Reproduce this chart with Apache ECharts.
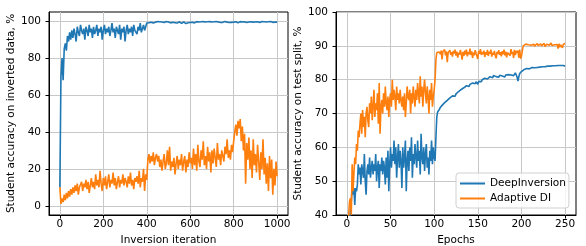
<!DOCTYPE html>
<html><head><meta charset="utf-8">
<script src="https://cdn.jsdelivr.net/npm/echarts@6/dist/echarts.min.js"></script>
<style>html,body{margin:0;padding:0;background:#fff}#c{width:586px;height:246px}</style>
</head><body><div id="c"></div>
<script>
// ---------- data ----------
const leftStep = 5; // inversion iterations between samples
const leftXTicks = [0, 200, 400, 600, 800, 1000];
const leftYTicks = [0, 20, 40, 60, 80, 100];
const rightXTicks = [0, 50, 100, 150, 200, 250];
const seriesNames = ['DeepInversion', 'Adaptive DI'];

const leftBlue = [10,70,80,68,85,88,84,92,89,94,90,
95,91,96,93,89,97,94,92,98,95,
93,96,90,97,95,92,98,94,96,91,
97,93,95,98,92,96,94,97,90,95,
98,93,96,94,97,92,95,99,94,96,
91,97,95,93,98,90,96,94,97,89,
95,98,93,96,94,97,92,98,95,96,
93,97,95,99,94,96,98,95,97,99,
99.6,99.2,99.8,99.4,99.7,99.1,99.9,99.5,99.3,99.8,
99.4,99.7,99.0,99.6,99.9,99.3,99.5,99.8,99.2,99.6,
99.5,99.1,99.7,99.4,99.8,99.2,99.6,99.0,99.5,99.7,
99.3,98.8,99.4,99.6,99.1,98.7,99.5,99.2,99.8,99.3,
99.6,99.4,99.7,99.1,99.5,99.8,99.3,99.6,99.2,99.7,
99.5,99.8,99.4,99.6,99.0,99.7,99.3,99.8,99.5,99.6,
99.2,99.7,99.4,99.8,99.1,99.6,99.5,99.3,99.7,99.4,
99.6,99.8,99.2,99.5,99.7,99.3,99.6,99.4,99.8,99.5,
99.3,99.7,99.5,99.1,99.6,99.8,99.4,99.6,99.2,99.7,
99.5,99.3,99.8,99.6,99.4,99.7,99.2,99.5,99.8,99.6,
99.4,99.7,99.5,99.3,99.6,99.8,99.5,99.7,99.4,99.6,
99.3,99.7,99.5,99.8,99.6,99.4,99.7,99.5,99.6,99.5];

const leftOrange = [10,1,4,2,6,3,7,4,8,5,9,
6,10,7,11,8,12,6,10,9,13,
8,12,10,14,9,13,7,11,15,10,
13,9,17,11,14,10,19,12,8,15,
11,16,9,13,17,10,14,12,18,11,
15,9,13,16,10,14,12,17,11,15,
13,10,16,12,18,11,14,9,15,13,
16,12,19,10,15,13,20,8,17,14,
25,28,23,27,24,29,22,26,28,24,
27,21,25,19,24,28,20,23,30,22,
32,19,24,21,26,17,23,27,20,25,
22,28,19,24,27,18,25,21,29,23,
26,20,31,22,28,19,33,24,21,30,
25,35,22,27,20,32,24,29,18,30,
23,31,26,21,34,25,28,22,30,27,
24,32,28,36,26,30,25,33,29,35,
40,44,38,46,42,47,35,43,30,39,
12,34,25,37,20,30,15,36,22,28,
18,33,24,14,29,20,36,17,26,12,
23,8,27,15,25,6,20,11,24,16];

const rightStep = 1; // epochs between samples
const rightBlue = [20,30,35,38,41,44,48,46,48,43,48,
47,49,55,52,54,49,55,53,51,58,
50,46,53,55,52,57,51,54,56,52,
55,53,58,50,54,56,48,55,53,57,
52,56,54,49,57,51,59,47,55,60,
54,58,56,62,55,60,51,57,61,54,
59,56,48,60,54,57,62,47,56,59,
53,60,56,63,51,58,55,61,57,54,
62,56,59,52,64,57,55,60,53,58,
61,54,57,52,59,56,62,55,60,57,
56,63,69,70.5,71,
71.2,71.8,72.1,72.4,72.0,72.9,73.2,72.8,73.6,73.9,
73.5,74.2,74.6,74.1,74.9,75.2,74.8,75.5,75.1,75.8,
76.2,75.7,76.5,76.9,76.4,77.1,77.4,76.9,77.6,77.2,
77.9,78.2,77.7,78.4,78.0,78.6,78.9,78.3,79.0,78.6,
79.2,78.8,79.4,79.0,78.6,79.5,79.2,79.8,79.4,80.0,
79.6,80.1,80.4,79.9,80.5,80.2,80.7,80.3,80.9,80.5,
81.0,80.6,81.2,80.8,81.3,80.9,81.4,81.1,80.7,81.3,
81.0,81.5,81.1,81.6,81.2,80.8,81.4,81.7,81.2,81.5,
81.1,81.8,81.4,81.9,81.5,81.2,81.7,82.0,81.5,80.8,
79.6,80.9,81.8,82.1,82.4,
82.0,82.7,83.0,82.8,83.1,83.3,83.0,83.4,83.2,83.5,
83.3,83.6,83.4,83.7,83.5,83.6,83.8,83.6,83.7,83.9,
83.7,83.8,84.0,83.8,83.9,84.0,83.8,84.1,83.9,84.0,
84.1,83.9,84.0,84.2,84.0,84.1,84.2,84.0,84.1,84.3,
84.1,84.2,84.0,84.3,84.2,84.1,84.3,84.2,84.1,84.0];

const rightOrange = [30,36,40,44,45,40,55,47,52,57,55,
61,59,65,63,67,70,64,71,66,69,
63,70,72,68,66,73,70,75,68,72,
77,69,73,71,76,67,79,64,72,74,
70,76,72,78,73,71,75,69,74,76,
72,80,74,77,75,71,78,74,76,73,
77,74,72,75,71,76,69,73,78,75,
74,77,70,76,73,78,75,72,77,74,
79,76,73,81,75,78,72,77,80,76,
73,78,75,70,77,74,79,72,75,77,
80,86,88,87.5,88,
88.2,87.5,88.6,86.0,88.3,87.8,88.9,87.2,88.4,85.2,
88.0,87.6,88.7,87.3,88.1,86.8,88.5,87.7,88.9,87.1,
88.3,86.5,88.0,87.4,88.8,87.6,85.9,88.2,87.0,88.6,
87.4,88.9,86.9,88.1,87.5,89.2,87.3,88.4,86.4,88.0,
87.2,88.7,87.8,88.3,86.1,88.5,87.6,89.0,87.3,88.2,
87.5,88.6,86.7,88.1,87.4,88.8,87.0,88.3,87.7,88.9,
86.8,88.0,87.4,88.5,87.1,86.3,88.2,87.6,88.7,87.3,
88.1,86.9,88.4,87.5,88.9,87.2,88.3,86.6,88.0,87.8,
88.5,87.1,89.0,87.6,88.2,86.4,88.8,87.3,88.5,87.9,
88.6,86.5,88.9,86.2,87.0,
88.5,90.0,90.4,90.2,90.5,90.1,90.6,90.3,90.0,90.4,
90.2,90.6,90.3,90.5,89.9,90.4,90.2,90.7,90.1,90.5,
90.3,90.6,90.0,90.4,90.2,90.7,89.8,90.3,90.5,90.1,
90.6,90.2,90.4,90.8,90.1,90.5,89.9,90.3,90.6,90.0,
90.4,89.2,90.6,89.6,90.3,90.8,89.4,90.5,90.2,90.7];

// ---------- chart ----------
const FONT = 'DejaVu Sans';
const BLUE = '#1f77b4', ORANGE = '#ff7f0e';
const GRIDC = '#c8c8c8';
const pairs = (arr, step) => arr.map((v, i) => [i * step, v]);
const plain = v => String(v);

function xAxis(gi, min, max, ticks, name) {
  return {
    type: 'value', gridIndex: gi, min: min, max: max,
    name: name, nameLocation: 'middle', nameGap: 20,
    nameTextStyle: {fontFamily: FONT, fontSize: 10.5, color: '#000'},
    axisLine: {show: true, onZero: false, lineStyle: {color: '#000', width: 1}},
    axisTick: {show: true, length: 3.5, customValues: ticks, lineStyle: {color: '#000', width: 1}},
    axisLabel: {customValues: ticks, formatter: plain, fontFamily: FONT, fontSize: 10.5, color: '#000', margin: 4},
    splitLine: {show: true, lineStyle: {color: GRIDC, width: 1}}
  };
}
function yAxis(gi, min, max, ticks, name, gap) {
  const a = {
    type: 'value', gridIndex: gi, min: min, max: max,
    name: name, nameLocation: 'middle', nameGap: gap,
    nameTextStyle: {fontFamily: FONT, fontSize: 10.5, color: '#000'},
    axisLine: {show: true, onZero: false, lineStyle: {color: '#000', width: 1}},
    axisTick: {show: true, length: 3.5, lineStyle: {color: '#000', width: 1}},
    axisLabel: {formatter: plain, fontFamily: FONT, fontSize: 10.5, color: '#000', margin: 8},
    splitLine: {show: true, lineStyle: {color: GRIDC, width: 1}}
  };
  if (ticks) { a.axisTick.customValues = ticks; a.axisLabel.customValues = ticks; }
  return a;
}
function line(name, data, xi, color) {
  return {
    type: 'line', name: name, data: data, xAxisIndex: xi, yAxisIndex: xi,
    showSymbol: false, symbol: 'none', clip: true, animation: false,
    lineStyle: {color: color, width: 1.6}, itemStyle: {color: color}
  };
}

const chart = echarts.init(document.getElementById('c'), null, {renderer: 'canvas'});
chart.setOption({
  animation: false,
  backgroundColor: '#fff',
  grid: [
    {left: 49, top: 12, width: 239, height: 203, outerBoundsMode: 'none', containLabel: false, show: true, borderColor: '#000', borderWidth: 1, backgroundColor: 'transparent'},
    {left: 336, top: 12, width: 240, height: 203, outerBoundsMode: 'none', containLabel: false, show: true, borderColor: '#000', borderWidth: 1, backgroundColor: 'transparent'}
  ],
  xAxis: [
    xAxis(0, -50, 1050, leftXTicks, 'Inversion iteration'),
    xAxis(1, -12.5, 262.5, rightXTicks, 'Epochs')
  ],
  yAxis: [
    yAxis(0, -5, 105, leftYTicks, 'Student accuracy on inverted data, %', 30),
    Object.assign(yAxis(1, 40, 100, null, 'Student accuracy on test split, %', 31), {interval: 10})
  ],
  legend: {
    data: seriesNames.map(n => ({name: n})),
    orient: 'vertical', left: 456, top: 173,
    padding: [5, 3, 4, 4], itemGap: 4,
    itemWidth: 25, itemHeight: 2, icon: 'rect',
    backgroundColor: 'rgba(255,255,255,0.8)', borderColor: '#d0d0d0', borderWidth: 1, borderRadius: 3,
    textStyle: {fontFamily: FONT, fontSize: 10.5, color: '#000'}
  },
  series: [
    line('DeepInversion', pairs(leftBlue, leftStep), 0, BLUE),
    line('Adaptive DI', pairs(leftOrange, leftStep), 0, ORANGE),
    line('DeepInversion', pairs(rightBlue, rightStep), 1, BLUE),
    line('Adaptive DI', pairs(rightOrange, rightStep), 1, ORANGE)
  ]
});
</script></body></html>
